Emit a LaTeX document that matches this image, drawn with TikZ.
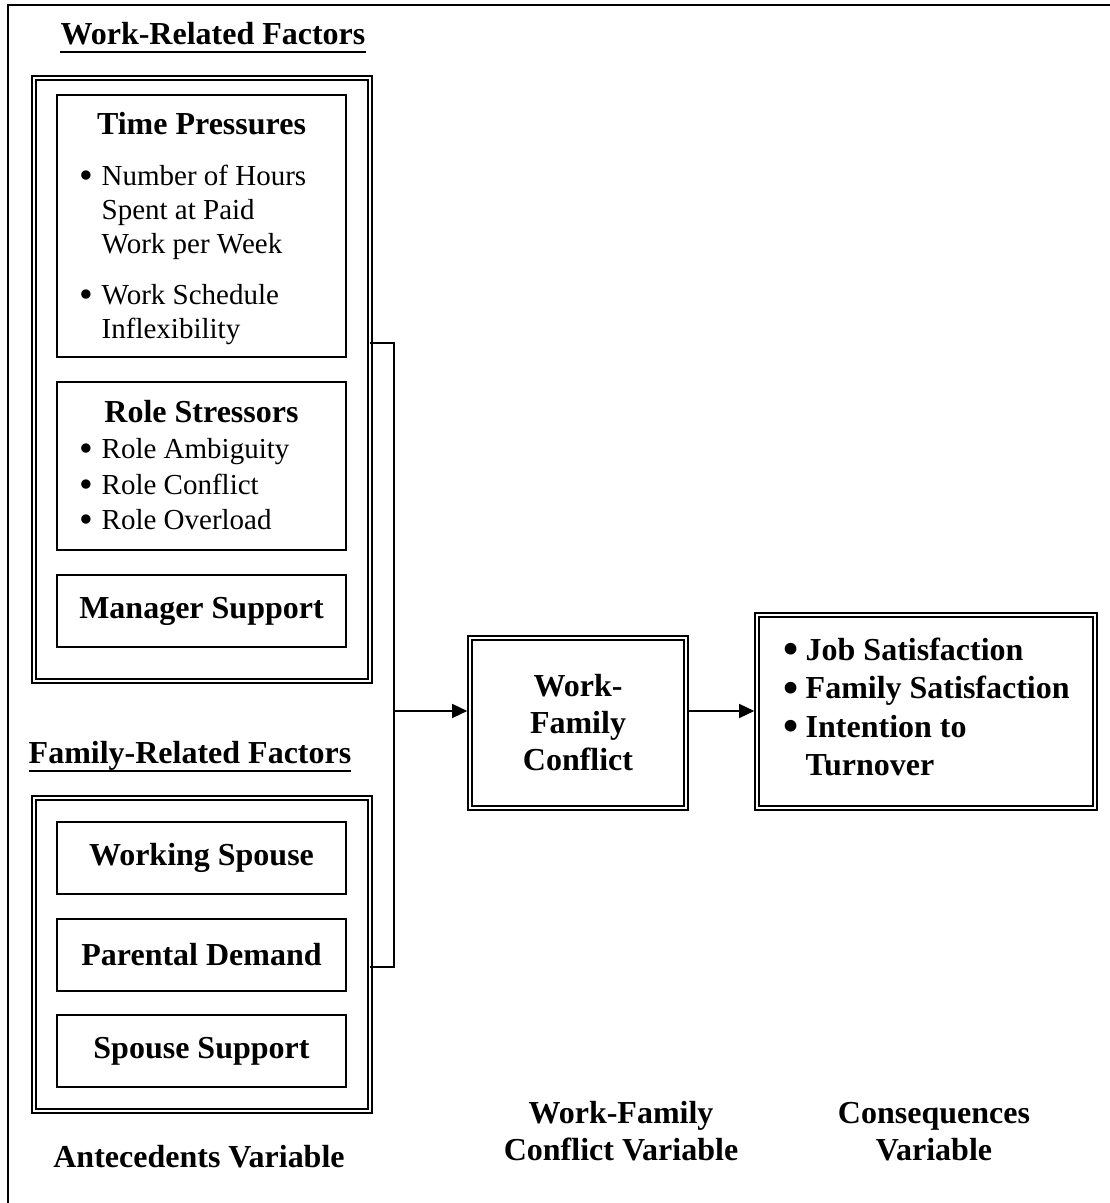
\documentclass[tikz,border=0pt]{standalone}
\usepackage{fontspec}
\usepackage{graphicx}
\setmainfont{Liberation Serif}
\usetikzlibrary{arrows.meta,positioning}

\newcommand{\bulletmark}{\makebox[22.5pt][l]{\smash{\raisebox{-0.1em}{\scalebox{1.35}{\textbullet}}}}}
\newcommand{\bulletgap}{\makebox[22.5pt]{}}

\tikzset{
  triplebox/.style={draw,double,line width=1.7pt,double distance=2.3pt,inner sep=0pt,outer sep=2.8pt},
  factorbox/.style={draw,line width=1.5pt,minimum width=289pt,inner sep=0pt,outer sep=0pt},
  boldtext/.style={font=\fontsize{32}{38}\selectfont\bfseries},
  headtext/.style={boldtext,inner sep=0pt,anchor=base},
  listtext/.style={font=\fontsize{29}{34}\selectfont,inner sep=0pt,align=left,anchor=base west},
  underline/.style={line width=2.6pt},
  link/.style={line width=1.5pt},
  pointer/.style={link,-{Triangle[length=15pt,width=14pt]}}
}

\begin{document}
\begin{tikzpicture}[x=1pt,y=1pt]
\useasboundingbox (0,0) rectangle (1110,1203);
\draw[line width=2pt] (8,0) -- (8,1198) -- (1110,1198);

\path (213,1158) node[headtext] (workhead) {Work-Related Factors};
\draw[underline] ([yshift=-7pt]workhead.base west) -- ([yshift=-7pt]workhead.base east);
\path (202,823.5) node[triplebox,minimum width=336pt,minimum height=603pt] (workbox) {};
\path (201.5,977) node[factorbox,minimum height=262pt] (time) {};
\path node[factorbox,minimum height=168pt,below=25pt of time] (role) {};
\path node[factorbox,boldtext,minimum height=72pt,below=25pt of role] (manager) {Manager Support};
\path ([yshift=-40pt]time.north) node[headtext] (timetitle) {Time Pressures};
\path (79,864) node[listtext] (timelist) {\bulletmark Number of Hours\\ \bulletgap Spent at Paid\\ \bulletgap Work per Week\\[17pt] \bulletmark Work Schedule\\ \bulletgap Inflexibility};
\path ([yshift=-41pt]role.north) node[headtext] (roletitle) {Role Stressors};
\path (79,673) node[listtext,font=\fontsize{29}{35.5}\selectfont] (rolelist) {\bulletmark Role Ambiguity\\ \bulletmark Role Conflict\\ \bulletmark Role Overload};

\path (190,439) node[headtext] (famhead) {Family-Related Factors};
\draw[underline] ([yshift=-7pt]famhead.base west) -- ([yshift=-7pt]famhead.base east);
\path (202,248.5) node[triplebox,minimum width=336pt,minimum height=313pt] (familybox) {};
\path (201.5,345) node[factorbox,boldtext,minimum height=72pt] (spouse) {Working Spouse};
\path node[factorbox,boldtext,minimum height=72pt,below=25pt of spouse] (parental) {Parental Demand};
\path node[factorbox,boldtext,minimum height=72pt,below=24pt of parental] (support) {Spouse Support};

\path (578,480) node[triplebox,boldtext,font=\fontsize{32}{37}\selectfont\bfseries,align=center,minimum width=216pt,minimum height=170pt] (conflict) {Work-\\Family\\Conflict};
\path (926,491.5) node[triplebox,minimum width=338pt,minimum height=193pt] (outcome) {};
\path (783,427) node[listtext,font=\fontsize{32}{38.5}\selectfont\bfseries] (outcomelist) {\bulletmark Job Satisfaction\\ \bulletmark Family Satisfaction\\ \bulletmark Intention to\\ \bulletgap Turnover};

\coordinate (worktap) at (370,860);
\coordinate (famtap) at (370,236);
\coordinate (bus) at (394,492);
\draw[link] (worktap) -| (bus) |- (famtap);
\draw[pointer] (bus) -- (conflict.west |- bus);
\draw[pointer] (conflict.east |- bus) -- (outcome.west |- bus);

\path (199,35) node[headtext] (antlabel) {Antecedents Variable};
\path (621,42) node[headtext,align=center,font=\fontsize{32}{37}\selectfont\bfseries] (conlabel) {Work-Family\\Conflict Variable};
\path (934,42) node[headtext,align=center,font=\fontsize{32}{37}\selectfont\bfseries] (seqlabel) {Consequences\\Variable};
\end{tikzpicture}
\end{document}
